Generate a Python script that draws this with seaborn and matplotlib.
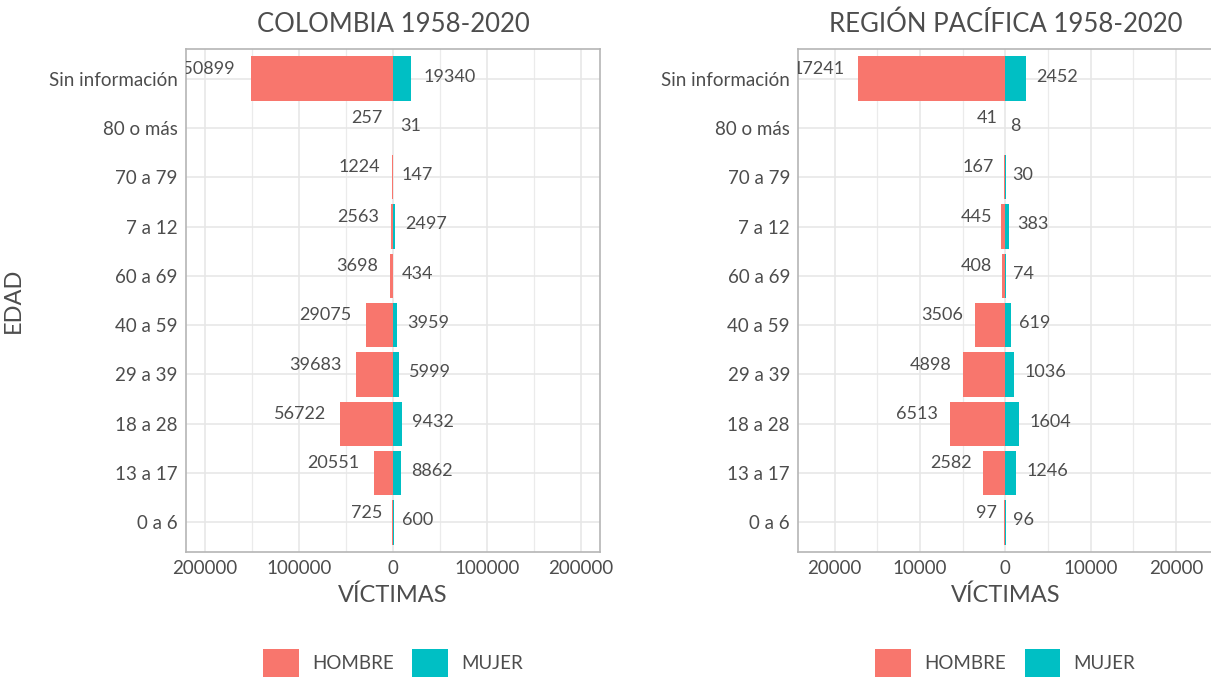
import matplotlib
matplotlib.use("Agg")
import matplotlib.pyplot as plt
import matplotlib.ticker as mticker
from matplotlib.patches import Patch
import seaborn as sns
import pandas as pd

# ---------------- data ----------------
edades = ["Sin información", "80 o más", "70 a 79", "7 a 12", "60 a 69",
          "40 a 59", "29 a 39", "18 a 28", "13 a 17", "0 a 6"]

col_hombre = [150899, 257, 1224, 2563, 3698, 29075, 39683, 56722, 20551, 725]
col_mujer = [19340, 31, 147, 2497, 434, 3959, 5999, 9432, 8862, 600]

pac_hombre = [17241, 41, 167, 445, 408, 3506, 4898, 6513, 2582, 97]
pac_mujer = [2452, 8, 30, 383, 74, 619, 1036, 1604, 1246, 96]

titulos = ["COLOMBIA 1958-2020", "REGIÓN PACÍFICA 1958-2020"]
sexos = ["HOMBRE", "MUJER"]
colores = {"HOMBRE": "#F8766D", "MUJER": "#00BFC4"}

# ---------------- style ----------------
sns.set_theme(style="white")
plt.rcParams["font.family"] = ["Lato", "DejaVu Sans"]
TXT = "#4D4D4D"

W, H = 1211, 679
fig = plt.figure(figsize=(W / 100, H / 100), dpi=100)

ax_w = 414 / W
ax_h = (552 - 49) / H
ax_b = 1 - 552 / H
axes = [fig.add_axes([186 / W, ax_b, ax_w, ax_h]),
        fig.add_axes([798.3 / W, ax_b, ax_w, ax_h])]
limits = [220000, 24240]
major = [100000, 10000]

datasets = [(col_hombre, col_mujer), (pac_hombre, pac_mujer)]

for k, (ax, (hom, muj)) in enumerate(zip(axes, datasets)):
    df = pd.DataFrame({
        "EDAD": edades * 2,
        "SEXO": ["HOMBRE"] * len(edades) + ["MUJER"] * len(edades),
        "VALOR": [-v for v in hom] + list(muj),
    })
    sns.barplot(data=df, x="VALOR", y="EDAD", hue="SEXO", order=edades,
                hue_order=sexos, palette=colores, orient="h", dodge=False,
                width=0.9, legend=False, ax=ax, linewidth=0, zorder=3,
                saturation=1)

    lim = limits[k]
    ax.set_xlim(-lim, lim)
    ax.set_ylim(len(edades) - 0.4, -0.6)

    ax.xaxis.set_major_locator(mticker.MultipleLocator(major[k]))
    ax.xaxis.set_minor_locator(mticker.MultipleLocator(major[k] / 2))
    ax.xaxis.set_major_formatter(mticker.FuncFormatter(lambda v, p: f"{abs(int(round(v)))}"))

    ax.set_axisbelow(True)
    ax.grid(True, which="major", axis="both", color="#E6E6E6", lw=1.1, zorder=0)
    ax.grid(True, which="minor", axis="x", color="#EBEBEB", lw=0.9, zorder=0)

    for s in ax.spines.values():
        s.set_color("#B5B5B5")
        s.set_linewidth(1.2)
        s.set_visible(True)

    ax.tick_params(axis="both", which="major", length=3, width=0.8, color="#B5B5B5",
                   labelsize=13.5, labelcolor=TXT, pad=3)
    ax.tick_params(axis="x", which="minor", length=0)

    ax.set_xlabel("VÍCTIMAS", fontsize=17, color=TXT, labelpad=5)
    if k == 0:
        ax.set_ylabel("EDAD", fontsize=17, color=TXT, labelpad=18)
    else:
        ax.set_ylabel("")
    ax.set_title(titulos[k], fontsize=18.5, color=TXT, pad=12)

    # value labels
    for i, (m, f) in enumerate(zip(hom, muj)):
        sm, sf = str(m), str(f)
        offm = 2.5 + 1.5 * len(sm)
        offf = 2.2 + 1.3 * len(sf)
        ax.annotate(sm, xy=(-m, i), xytext=(-offm, 7), textcoords="offset points",
                    ha="right", va="center", fontsize=13, color=TXT,
                    annotation_clip=False, clip_on=True, zorder=5)
        ax.annotate(sf, xy=(f, i), xytext=(offf, 1.5), textcoords="offset points",
                    ha="left", va="center", fontsize=13, color=TXT,
                    annotation_clip=False, clip_on=True, zorder=5)

    handles = [Patch(facecolor=colores[s], edgecolor="none", label=s) for s in sexos]
    ax.legend(handles=handles, loc="center", bbox_to_anchor=(0.5, (552 - 663) / 503),
              ncol=2, frameon=False, fontsize=13.5, labelcolor=TXT,
              handlelength=1.9, handleheight=1.85, handletextpad=0.7,
              columnspacing=1.0)

fig.savefig("out.png", dpi=100)
